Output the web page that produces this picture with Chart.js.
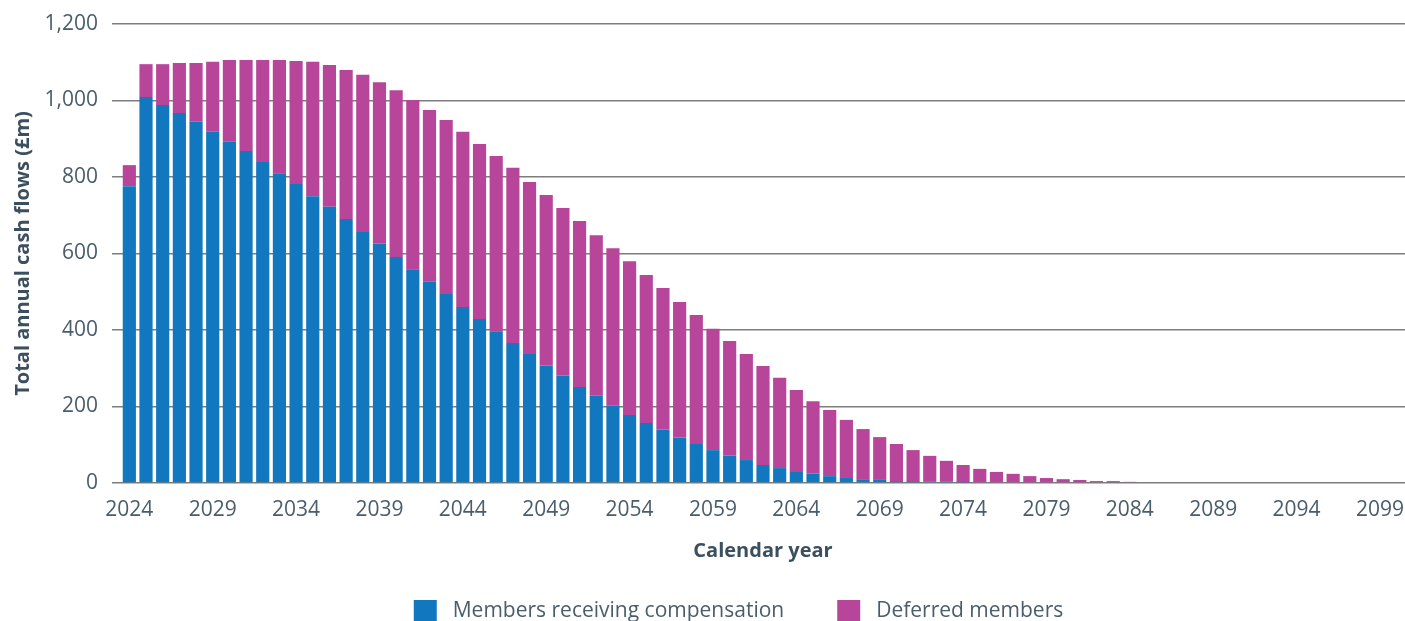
<!DOCTYPE html>
<html>
<head>
<meta charset="utf-8">
<title>Total annual cash flows</title>
<script src="https://cdn.jsdelivr.net/npm/chart.js@4/dist/chart.umd.min.js"></script>
<style>
  html, body { margin: 0; padding: 0; background: #fff; overflow: hidden; }
  #wrap { width: 1405px; height: 633px; }
</style>
</head>
<body>
<div id="wrap"><canvas id="cashFlows"></canvas></div>
<script>
// Calendar years on the x axis
const years = [
  '2024', '2025', '2026', '2027', '2028', '2029', '2030', '2031', '2032', '2033',
  '2034', '2035', '2036', '2037', '2038', '2039', '2040', '2041', '2042', '2043',
  '2044', '2045', '2046', '2047', '2048', '2049', '2050', '2051', '2052', '2053',
  '2054', '2055', '2056', '2057', '2058', '2059', '2060', '2061', '2062', '2063',
  '2064', '2065', '2066', '2067', '2068', '2069', '2070', '2071', '2072', '2073',
  '2074', '2075', '2076', '2077', '2078', '2079', '2080', '2081', '2082', '2083',
  '2084', '2085', '2086', '2087', '2088', '2089', '2090', '2091', '2092', '2093',
  '2094', '2095', '2096', '2097', '2098', '2099', '2100'
];

// Members receiving compensation (£m)
const receivingCompensation = [
  776, 1009, 988, 967, 945, 918, 892, 868, 839, 810,
  782, 750, 722, 690, 656, 626, 591, 559, 526, 494,
  460, 429, 397, 366, 337, 307, 281, 251, 228, 202,
  178, 157, 139, 118, 102, 86, 71, 60, 47, 39,
  31, 24, 18, 13, 10, 8, 5, 5, 3, 3,
  1, 0, 0, 0, 0, 0, 0, 0, 0, 0,
  0, 0, 0, 0, 0, 0, 0, 0, 0, 0,
  0, 0, 0, 0, 0, 0, 0
];

// Deferred members (£m)
const deferredMembers = [
  55, 86, 107, 131, 153, 183, 214, 238, 267, 296,
  321, 351, 371, 390, 411, 422, 436, 442, 449, 455,
  458, 457, 458, 458, 450, 446, 438, 434, 420, 412,
  402, 387, 371, 355, 337, 317, 300, 277, 259, 236,
  212, 190, 173, 152, 131, 112, 97, 81, 68, 55,
  46, 37, 29, 24, 18, 13, 10, 8, 5, 5,
  3, 0, 0, 0, 0, 0, 0, 0, 0, 0,
  0, 0, 0, 0, 0, 0, 0
];

const yTicks = [0, 200, 400, 600, 800, 1000, 1200];

const textColour = '#4a5d6c';
const titleColour = '#3b4f5e';
const gridColour = '#7d7d7d';

// nudge the legend row to the right of the canvas centre
const legendShift = {
  id: 'legendShift',
  afterLayout(chart) {
    chart.legend.left += 36;
    chart.legend.right += 36;
  },
};

new Chart(document.getElementById('cashFlows').getContext('2d'), {
  type: 'bar',
  data: {
    labels: years,
    datasets: [
      {
        label: ' Members receiving compensation',
        data: receivingCompensation,
        backgroundColor: '#1177bf',
        barPercentage: 0.79,
        categoryPercentage: 1,
      },
      {
        label: ' Deferred members',
        data: deferredMembers,
        backgroundColor: '#b7469a',
        barPercentage: 0.79,
        categoryPercentage: 1,
      },
    ],
  },
  plugins: [legendShift],
  options: {
    responsive: true,
    maintainAspectRatio: false,
    animation: false,
    layout: { padding: { top: 24, right: 0, left: 0, bottom: 0 } },
    plugins: {
      tooltip: { enabled: false },
      legend: {
        position: 'bottom',
        labels: {
          boxWidth: 23,
          boxHeight: 23,
          padding: 53,
          color: textColour,
          font: { family: 'Open Sans', size: 21 },
        },
      },
    },
    scales: {
      x: {
        stacked: true,
        afterFit: function (scale) {
          scale.height = 64;
          // let the plot run right to the canvas edge
          scale.paddingLeft = 0;
          scale.paddingRight = 0;
        },
        grid: { display: false, drawTicks: false },
        border: { display: false },
        ticks: {
          autoSkip: false,
          maxRotation: 0,
          padding: 14,
          color: textColour,
          font: { family: 'Open Sans', size: 21 },
          callback: function (value, index) {
            return index % 5 === 0 ? years[index] : '';
          },
        },
        title: {
          display: true,
          text: 'Calendar year',
          color: titleColour,
          font: { family: 'Open Sans', size: 20, weight: 'bold' },
          padding: { top: 0, bottom: -16 },
        },
      },
      y: {
        stacked: true,
        min: 0,
        max: 1200,
        afterBuildTicks: function (scale) {
          scale.ticks = yTicks.map(v => ({ value: v }));
        },
        afterFit: function (scale) {
          scale.width = 121;
          scale.paddingTop = 0;
          scale.paddingBottom = 0;
        },
        grid: {
          color: gridColour,
          lineWidth: 1.5,
          tickLength: 9,
        },
        border: { display: false },
        ticks: {
          padding: 14,
          color: textColour,
          font: { family: 'Open Sans', size: 21 },
          callback: function (value) {
            return value.toLocaleString('en-GB');
          },
        },
        title: {
          display: true,
          text: 'Total annual cash flows (£m)',
          color: titleColour,
          font: { family: 'Open Sans', size: 20, weight: 'bold' },
          padding: { top: 11, bottom: 0 },
        },
      },
    },
  },
});
</script>
</body>
</html>
